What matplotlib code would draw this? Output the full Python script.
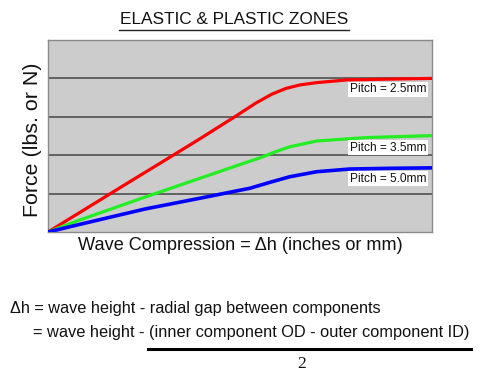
import matplotlib
matplotlib.use("Agg")
import matplotlib.pyplot as plt
from matplotlib.lines import Line2D

plt.rcParams['font.family'] = ['Liberation Sans', 'DejaVu Sans']

# ---- data ----
x_red = [0, 1, 2, 3, 3.96, 4.91, 5.4, 5.83, 6.2, 6.56, 7.0, 7.78, 8.8, 10]
y_red = [0, 0.614, 1.23, 1.84, 2.43, 3.03, 3.35, 3.59, 3.74, 3.83, 3.89, 3.96, 3.98, 4.0]

x_green = [0, 0.79, 2.53, 3.96, 5.13, 5.52, 5.9, 6.3, 7.0, 8.3, 10]
y_green = [0, 0.30, 0.91, 1.40, 1.80, 1.93, 2.08, 2.22, 2.37, 2.46, 2.51]

x_blue = [0, 0.79, 2.53, 3.96, 5.26, 5.8, 6.3, 7.0, 7.86, 9.0, 10]
y_blue = [0, 0.19, 0.60, 0.88, 1.14, 1.30, 1.44, 1.57, 1.64, 1.66, 1.67]

labels = ["Pitch = 2.5mm", "Pitch = 3.5mm", "Pitch = 5.0mm"]
label_y = [3.72, 2.19, 1.39]

title = "ELASTIC & PLASTIC ZONES"
xlabel = "Wave Compression = \u0394h (inches or mm)"
ylabel = "Force (lbs. or N)"
line1 = "\u0394h = wave height - radial gap between components"
line2 = "= wave height - (inner component OD - outer component ID)"

W, H = 484, 377
fig = plt.figure(figsize=(W / 100, H / 100), dpi=100)
fig.patch.set_facecolor('white')

ax = fig.add_axes([48 / W, 1 - 232 / H, 384 / W, 192 / H])
ax.set_facecolor('#cccccc')
ax.set_xlim(0, 10)
ax.set_ylim(0, 5)
ax.set_xticks([])
ax.set_yticks([])
for yv in [1, 2, 3, 4]:
    ax.axhline(yv, color='#505050', lw=1.2, zorder=1)
for s in ax.spines.values():
    s.set_color('#8a8a8a')
    s.set_linewidth(1.0)

ax.plot(x_red, y_red, color='#ff0000', lw=2.3, zorder=3, solid_capstyle='butt')
ax.plot(x_green, y_green, color='#22ee22', lw=2.3, zorder=3, solid_capstyle='butt')
ax.plot(x_blue, y_blue, color='#0000ff', lw=2.6, zorder=3, solid_capstyle='butt')

for lab, ly in zip(labels, label_y):
    ax.text(9.85, ly, lab, ha='right', va='center', fontsize=8.6, color='#111111',
            zorder=4,
            bbox=dict(boxstyle='square,pad=0.12', facecolor='white', edgecolor='none'))

# title with underline
fig.text(234 / W, 1 - 20 / H, title, ha='center', va='center', fontsize=12.4, color='#111111')
fig.add_artist(Line2D([119 / W, 349 / W], [1 - 29.5 / H, 1 - 29.5 / H],
                      color='#222222', lw=1.0, transform=fig.transFigure))

fig.text(33 / W, 1 - 139.5 / H, ylabel, rotation=90, ha='center', va='center',
         fontsize=15.4, color='#111111')
fig.text(240 / W, 1 - 245 / H, xlabel, ha='center', va='center', fontsize=13.1, color='#111111')

fig.text(10 / W, 1 - 308 / H, line1, ha='left', va='center', fontsize=11.7, color='#111111')
fig.text(33 / W, 1 - 332 / H, line2, ha='left', va='center', fontsize=11.75, color='#111111')
fig.add_artist(Line2D([148 / W, 471 / W], [1 - 349 / H, 1 - 349 / H],
                      color='#000000', lw=2.2, transform=fig.transFigure))
fig.text(302 / W, 1 - 364 / H, "2", ha='center', va='center', fontsize=12.5,
         family=['Liberation Serif', 'DejaVu Serif'], color='#111111')

fig.savefig('out.png', dpi=100, facecolor='white')
